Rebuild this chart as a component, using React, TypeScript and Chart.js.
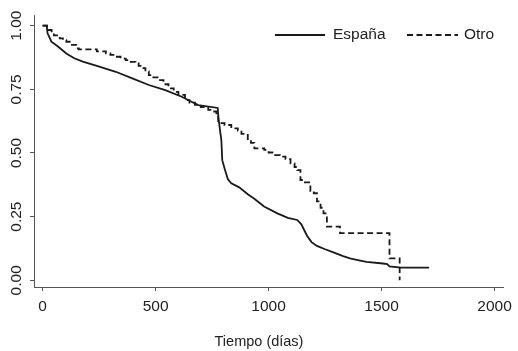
import React, { useEffect, useRef } from "react";
import { Chart, registerables } from "chart.js";

Chart.register(...registerables);

// Kaplan-Meier survival readings: time (days) and survival probability
const espanaT = [0, 18, 22, 30, 39, 68, 105, 140, 178, 251, 324, 397, 470, 543, 616, 650, 689, 775, 778, 785, 791, 795, 805, 820, 835, 870, 908, 937, 980, 1039, 1085, 1127, 1145, 1170, 1190, 1214, 1250, 1287, 1330, 1360, 1400, 1433, 1506, 1525, 1535, 1586, 1710];
const espanaS = [1.0, 1.0, 0.97, 0.955, 0.937, 0.918, 0.891, 0.872, 0.859, 0.839, 0.819, 0.793, 0.767, 0.747, 0.721, 0.705, 0.688, 0.677, 0.64, 0.59, 0.551, 0.472, 0.44, 0.397, 0.381, 0.365, 0.338, 0.32, 0.29, 0.263, 0.245, 0.237, 0.22, 0.175, 0.15, 0.135, 0.122, 0.11, 0.095, 0.086, 0.078, 0.072, 0.066, 0.064, 0.055, 0.05, 0.05];

const otroT = [0, 20, 25, 40, 50, 76, 90, 105, 125, 149, 160, 240, 280, 300, 324, 345, 368, 390, 411, 425, 440, 455, 470, 490, 513, 535, 557, 580, 601, 630, 650, 674, 700, 733, 750, 769, 777, 805, 835, 864, 880, 908, 922, 937, 981, 1000, 1025, 1050, 1075, 1097, 1115, 1127, 1141, 1156, 1185, 1200, 1214, 1230, 1243, 1258, 1316, 1535, 1580];
const otroS = [1.0, 0.99, 0.983, 0.97, 0.962, 0.95, 0.943, 0.937, 0.925, 0.911, 0.907, 0.899, 0.891, 0.885, 0.878, 0.871, 0.865, 0.858, 0.852, 0.842, 0.833, 0.82, 0.806, 0.797, 0.786, 0.77, 0.754, 0.74, 0.728, 0.708, 0.698, 0.689, 0.68, 0.669, 0.663, 0.656, 0.617, 0.61, 0.597, 0.588, 0.575, 0.551, 0.54, 0.518, 0.512, 0.502, 0.492, 0.486, 0.476, 0.459, 0.445, 0.433, 0.394, 0.385, 0.35, 0.342, 0.31, 0.285, 0.263, 0.211, 0.185, 0.086, 0.0];

const seriesNames = ["España", "Otro"];
const xTicks = [0, 500, 1000, 1500, 2000];
const yTicks = [0, 0.25, 0.5, 0.75, 1];
const xTitle = "Tiempo (días)";

const FONT = "'Liberation Sans', Arial, Helvetica, sans-serif";
const LINE = "#1a1a1a";
const AXIS = "#555";
const TEXT = "#222";
const DASH = [6, 3.5];

export default function App() {
  const ref = useRef<HTMLCanvasElement | null>(null);

  useEffect(() => {
    const canvas = ref.current;
    if (!canvas) return;

    const legendPlugin = {
      id: "kmLegend",
      afterDraw(chart: any) {
        const c = chart.ctx as CanvasRenderingContext2D;
        const items = [
          { x0: 275, x1: 325, tx: 333, dash: [] as number[], label: seriesNames[0] },
          { x0: 407, x1: 458, tx: 464, dash: DASH, label: seriesNames[1] },
        ];
        const y = 35;
        c.save();
        c.font = `15.5px ${FONT}`;
        c.textBaseline = "middle";
        c.textAlign = "left";
        items.forEach((it) => {
          c.beginPath();
          c.setLineDash(it.dash);
          c.lineWidth = 1.8;
          c.strokeStyle = LINE;
          c.moveTo(it.x0, y);
          c.lineTo(it.x1, y);
          c.stroke();
          c.setLineDash([]);
          c.fillStyle = TEXT;
          c.fillText(it.label, it.tx, y);
        });
        c.restore();
      },
    };

    const chart = new Chart(canvas, {
      type: "line",
      data: {
        datasets: [
          {
            label: seriesNames[0],
            data: espanaT.map((t, i) => ({ x: t, y: espanaS[i] })),
            borderColor: LINE,
            backgroundColor: LINE,
            borderWidth: 1.8,
            pointRadius: 0,
            tension: 0,
            fill: false,
          },
          {
            label: seriesNames[1],
            data: otroT.map((t, i) => ({ x: t, y: otroS[i] })),
            borderColor: LINE,
            backgroundColor: LINE,
            borderWidth: 1.8,
            borderDash: DASH,
            pointRadius: 0,
            stepped: "before",
            fill: false,
          },
        ],
      },
      options: {
        animation: false,
        responsive: false,
        maintainAspectRatio: false,
        layout: { padding: { top: 15, right: 0, left: 0, bottom: 0 } },
        plugins: {
          legend: { display: false },
          tooltip: { enabled: false },
          title: {
            display: true,
            text: xTitle,
            position: "bottom",
            color: TEXT,
            font: { family: FONT, size: 14.5, weight: "normal" },
            padding: { top: 0, bottom: 0 },
          },
        },
        scales: {
          x: {
            type: "linear",
            min: -38,
            max: 2038,
            afterBuildTicks: (s: any) => {
              s.ticks = xTicks.map((v) => ({ value: v }));
            },
            afterFit: (s: any) => {
              s.height = 46.6;
            },
            grid: { drawOnChartArea: false, drawTicks: true, tickLength: 4, color: AXIS, lineWidth: 1 },
            border: { display: true, color: AXIS, width: 1 },
            ticks: {
              autoSkip: false,
              maxRotation: 0,
              minRotation: 0,
              padding: 6,
              color: TEXT,
              font: { family: FONT, size: 15.5 },
              callback: (v: any) => String(v),
            },
          },
          y: {
            type: "linear",
            min: -0.0263,
            max: 1.042,
            afterBuildTicks: (s: any) => {
              s.ticks = yTicks.map((v) => ({ value: v }));
            },
            afterFit: (s: any) => {
              s.width = 34;
            },
            grid: { drawOnChartArea: false, drawTicks: true, tickLength: 4, color: AXIS, lineWidth: 1 },
            border: { display: true, color: AXIS, width: 1 },
            ticks: {
              autoSkip: false,
              minRotation: 90,
              maxRotation: 90,
              crossAlign: "center",
              padding: -2,
              color: TEXT,
              font: { family: FONT, size: 15.5 },
              callback: (v: any) => Number(v).toFixed(2),
            },
          },
          // empty right-hand margin so the bottom title is centred on the whole graph
          yRight: {
            type: "linear",
            position: "right",
            display: true,
            grid: { display: false, drawTicks: false },
            border: { display: false },
            ticks: { display: false },
            afterFit: (s: any) => {
              s.width = 10;
            },
          },
        },
      },
      plugins: [legendPlugin],
    } as any);

    return () => chart.destroy();
  }, []);

  return (
    <div style={{ position: "fixed", left: 0, top: 0, width: 518, height: 351, background: "#fff" }}>
      <canvas ref={ref} width={518} height={351} style={{ display: "block", width: 518, height: 351 }} />
    </div>
  );
}
